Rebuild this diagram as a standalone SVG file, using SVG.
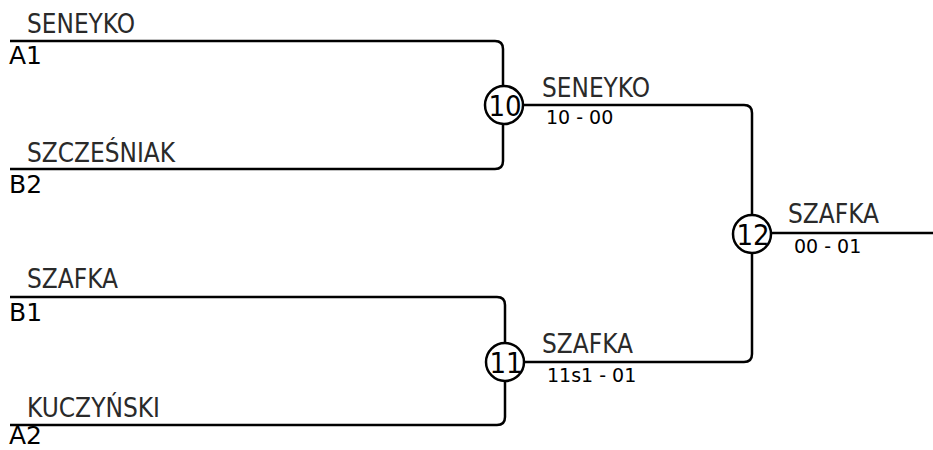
<svg xmlns="http://www.w3.org/2000/svg" width="933" height="450" viewBox="0 0 933 450">
<style>
.ln{fill:none;stroke:#000;stroke-width:2.5}
.nm{font-family:"DejaVu Sans Condensed","DejaVu Sans",sans-serif;font-size:26px;fill:#2a2a2a}
.sd{font-family:"DejaVu Sans",sans-serif;font-size:25px;fill:#000}
.sc{font-family:"DejaVu Sans",sans-serif;font-size:19px;fill:#000}
.ci{fill:#fff;stroke:#000;stroke-width:2.5}
.cn{font-family:"DejaVu Sans Condensed","DejaVu Sans",sans-serif;font-size:29px;fill:#000;text-anchor:middle}
</style>
<rect width="933" height="450" fill="#fff"/>
<g id="connectors">
<path class="ln" d="M10,41 H495 Q503,41 503,49 V161 Q503,169 495,169 H10"/>
<path class="ln" d="M10,297 H497 Q505,297 505,305 V417 Q505,425 497,425 H10"/>
<path class="ln" d="M503,105 H744 Q752,105 752,113 V354 Q752,362 744,362 H505"/>
<path class="ln" d="M752,233 H933"/>
</g>
<g id="p1"><text class="nm" x="27" y="33" textLength="108" lengthAdjust="spacingAndGlyphs">SENEYKO</text><text class="sd" x="9" y="64">A1</text></g>
<g id="p2"><text class="nm" x="27" y="162" textLength="148" lengthAdjust="spacingAndGlyphs">SZCZEŚNIAK</text><text class="sd" x="9" y="193">B2</text></g>
<g id="p3"><text class="nm" x="27" y="288" textLength="91" lengthAdjust="spacingAndGlyphs">SZAFKA</text><text class="sd" x="9" y="321">B1</text></g>
<g id="p4"><text class="nm" x="27" y="417" textLength="133" lengthAdjust="spacingAndGlyphs">KUCZYŃSKI</text><text class="sd" x="9" y="444">A2</text></g>
<g id="m10"><circle class="ci" cx="504" cy="105" r="19"/><text class="cn" x="505" y="116">10</text><text class="nm" x="542" y="97" textLength="108" lengthAdjust="spacingAndGlyphs">SENEYKO</text><text class="sc" x="546" y="124">10 - 00</text></g>
<g id="m11"><circle class="ci" cx="505" cy="362" r="19"/><text class="cn" x="506" y="373">11</text><text class="nm" x="542" y="353" textLength="91" lengthAdjust="spacingAndGlyphs">SZAFKA</text><text class="sc" x="547" y="382">11s1 - 01</text></g>
<g id="m12"><circle class="ci" cx="752" cy="234" r="19"/><text class="cn" x="753" y="245">12</text><text class="nm" x="788" y="223" textLength="91" lengthAdjust="spacingAndGlyphs">SZAFKA</text><text class="sc" x="794" y="253">00 - 01</text></g>
</svg>
